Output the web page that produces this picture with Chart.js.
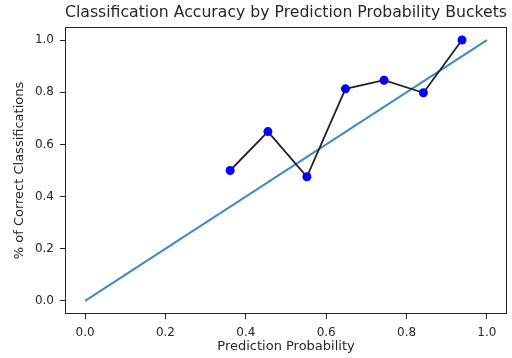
<!DOCTYPE html>
<html>
<head>
<meta charset="utf-8">
<script src="https://cdn.jsdelivr.net/npm/chart.js@4/dist/chart.umd.min.js"></script>
<style>
  html, body { margin: 0; padding: 0; background: #fff; }
  #wrap { width: 512px; height: 358px; }
</style>
</head>
<body>
<div id="wrap"><canvas id="chart" width="512" height="358"></canvas></div>
<script>
// bucket centres and accuracy per bucket
const bucketX = [0.361, 0.455, 0.552, 0.648, 0.744, 0.842, 0.938];
const accuracy = [0.50, 0.649, 0.476, 0.813, 0.846, 0.798, 1.0];
// perfect calibration line
const diagX = [0.0, 1.0];
const diagY = [0.0, 1.0];
const xTicks = [0.0, 0.2, 0.4, 0.6, 0.8, 1.0];
const yTicks = [0.0, 0.2, 0.4, 0.6, 0.8, 1.0];

const font = "'DejaVu Sans', sans-serif";
const ink = "#262626";

// box round the plot area, like matplotlib spines
const frame = {
    id: "frame",
    afterDatasetsDraw(chart) {
        const a = chart.chartArea;
        const ctx = chart.ctx;
        ctx.save();
        ctx.strokeStyle = ink;
        ctx.lineWidth = 1;
        ctx.strokeRect(a.left + 0.5, a.top + 0.5, a.right - a.left - 1, a.bottom - a.top - 1);
        ctx.restore();
    }
};

const ctx = document.getElementById("chart").getContext("2d");
new Chart(ctx, {
    type: "scatter",
    data: {
        datasets: [
            {
                label: "accuracy",
                data: bucketX.map((x, i) => ({x: x, y: accuracy[i]})),
                showLine: true,
                borderColor: "#222222",
                borderWidth: 1.8,
                pointRadius: 4.5,
                pointBackgroundColor: "#0000ff",
                pointBorderColor: "#0000ff",
                pointBorderWidth: 0,
                order: 0
            },
            {
                label: "ideal",
                data: diagX.map((x, i) => ({x: x, y: diagY[i]})),
                showLine: true,
                borderColor: "#3b8cc4",
                borderWidth: 2,
                pointRadius: 0,
                order: 1
            }
        ]
    },
    options: {
        responsive: false,
        animation: false,
        layout: {padding: {left: 0, right: 5, top: 0, bottom: 0}},
        plugins: {
            legend: {display: false},
            tooltip: {enabled: false},
            title: {
                display: true,
                fullSize: false,
                text: "Classification Accuracy by Prediction Probability Buckets",
                color: ink,
                font: {family: font, size: 16, weight: "normal"},
                padding: {top: 3.5, bottom: 4.3}
            }
        },
        scales: {
            x: {
                type: "linear",
                min: -0.05,
                max: 1.05,
                afterBuildTicks: s => { s.ticks = xTicks.map(v => ({value: v})); },
                afterFit: s => { s.height = 44; },
                grid: {display: true, drawOnChartArea: false, drawTicks: true, tickLength: 5, color: ink},
                border: {display: false},
                ticks: {
                    color: ink,
                    font: {family: font, size: 12},
                    padding: 7,
                    maxRotation: 0,
                    callback: v => v.toFixed(1)
                },
                title: {
                    display: true,
                    text: "Prediction Probability",
                    color: ink,
                    font: {family: font, size: 13},
                    padding: {top: 0, bottom: 3.2}
                }
            },
            y: {
                type: "linear",
                min: -0.05,
                max: 1.05,
                afterBuildTicks: s => { s.ticks = yTicks.map(v => ({value: v})); },
                afterFit: s => { s.width = 65; },
                grid: {display: true, drawOnChartArea: false, drawTicks: true, tickLength: 5, color: ink},
                border: {display: false},
                ticks: {
                    color: ink,
                    font: {family: font, size: 12},
                    padding: 6,
                    callback: v => v.toFixed(1)
                },
                title: {
                    display: true,
                    text: "% of Correct Classifications",
                    color: ink,
                    font: {family: font, size: 13},
                    padding: {top: 12, bottom: 0}
                }
            }
        }
    },
    plugins: [frame]
});
</script>
</body>
</html>
